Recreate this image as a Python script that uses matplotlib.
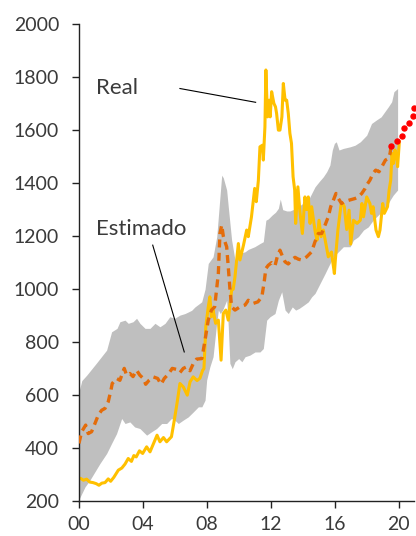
import numpy as np
import matplotlib.pyplot as plt

plt.rcParams['font.family'] = ['Lato', 'DejaVu Sans']

# real price (gold line)
real_x = [0, 0.15, 0.3, 0.5, 0.7, 0.9, 1.1, 1.27, 1.45, 1.65, 1.85, 2.0, 2.2, 2.48, 2.7, 2.9,
          3.1, 3.3, 3.45, 3.6, 3.8, 4.0, 4.25, 4.46, 4.7, 4.9, 5.08, 5.3, 5.5, 5.8, 5.98, 6.15,
          6.33, 6.54, 6.79, 6.96, 7.16, 7.4, 7.58, 7.75, 7.83, 7.95, 8.1, 8.2, 8.3, 8.4, 8.56,
          8.73, 8.9, 9.04, 9.2, 9.35, 9.56, 9.66, 9.77, 9.98, 10.08, 10.3, 10.5, 10.6, 10.8, 11.0,
          11.1, 11.23, 11.33, 11.48, 11.54, 11.64, 11.7, 11.8, 11.9, 11.97, 12.06, 12.2, 12.3,
          12.37, 12.48, 12.58, 12.7, 12.79, 12.9, 13.0, 13.1, 13.2, 13.3, 13.4, 13.5, 13.56, 13.7,
          13.83, 13.98, 14.14, 14.25, 14.35, 14.46, 14.56, 14.7, 14.8, 14.9, 15.02, 15.15, 15.29,
          15.45, 15.6, 15.8, 15.98, 16.04, 16.2, 16.4, 16.5, 16.6, 16.75, 16.9, 17.0, 17.17, 17.4,
          17.6, 17.7, 17.8, 18.0, 18.2, 18.3, 18.4, 18.58, 18.73, 18.83, 19.0, 19.1, 19.3, 19.4,
          19.5, 19.58, 19.66, 19.77, 19.87, 19.93, 20.04]
real_y = [288, 285, 279, 283, 272, 270, 266, 260, 268, 270, 284, 275, 290, 317, 325, 340,
          361, 350, 372, 367, 390, 380, 405, 386, 420, 449, 424, 440, 424, 443, 506, 570,
          644, 631, 600, 650, 669, 655, 664, 694, 700, 860, 933, 971, 896, 921, 871,
          883, 732, 908, 921, 883, 996, 1000, 1047, 1172, 1110, 1166, 1223, 1198, 1273, 1380,
          1330, 1410, 1537, 1543, 1487, 1612, 1827, 1650, 1713, 1650, 1745, 1701, 1688,
          1663, 1600, 1600, 1650, 1776, 1713, 1713, 1663, 1588, 1550, 1424, 1374, 1248, 1386,
          1290, 1210, 1348, 1300, 1348, 1248, 1311, 1250, 1210, 1185, 1260, 1198, 1223,
          1170, 1122, 1140, 1059, 1110, 1223, 1320, 1323, 1311, 1225, 1298, 1170, 1260, 1248,
          1260, 1323, 1273, 1348, 1323, 1286, 1311, 1223, 1198, 1223, 1323, 1286, 1311, 1374,
          1411, 1512, 1474, 1525, 1500, 1462, 1556]

# model estimate (dashed)
est_x = [0.02, 0.19, 0.44, 0.6, 0.81, 1.02, 1.23, 1.44, 1.65, 1.85, 2.02, 2.1, 2.37, 2.58, 2.85,
         3.0, 3.2, 3.4, 3.62, 3.83, 4.04, 4.19, 4.4, 4.66, 4.94, 5.15, 5.35, 5.6, 5.85, 6.13, 6.33,
         6.54, 6.75, 6.96, 7.17, 7.37, 7.7, 7.9, 8.1, 8.3, 8.5, 8.73, 8.83, 8.94, 9.04, 9.14,
         9.25, 9.35, 9.46, 9.56, 9.77, 10.08, 10.4, 10.6, 10.9, 11.2, 11.45, 11.6, 11.7, 11.85,
         12.06, 12.27, 12.41, 12.58, 12.75, 12.9, 13.1, 13.3, 13.52, 13.73,
         13.93, 14.25, 14.56, 14.77, 14.98, 15.19, 15.4, 15.6, 15.75, 15.92, 16.08, 16.23, 16.43,
         16.6, 16.92, 17.27, 17.48, 17.69, 17.9, 18.0, 18.2, 18.4, 18.56, 18.77, 19.0, 19.17,
         19.35, 19.46, 19.52]
est_y = [418, 462, 487, 455, 462, 493, 525, 543, 550, 575, 619, 644, 663, 656, 701,
         675, 682, 670, 694, 675, 663, 641, 656, 669, 663, 641, 663, 679, 701, 697, 685,
         701, 707, 692, 720, 736, 738, 808, 883, 921, 933, 1059, 1210, 1242, 1200, 1179,
         1160, 1084, 996, 933, 921, 933, 940, 958, 946, 952, 971, 1030, 1078, 1090,
         1100, 1088, 1122, 1147, 1122, 1103, 1095, 1110, 1120, 1113,
         1110, 1122, 1141, 1179, 1210, 1210, 1242, 1273, 1311, 1336, 1361, 1342, 1323,
         1330, 1336, 1342, 1348, 1361, 1380, 1393, 1411, 1437, 1449, 1443, 1468, 1487,
         1493, 1512, 1537]

# confidence band
up_x = [0, 0.2, 0.5, 1.1, 1.75, 2.06, 2.4, 2.58, 2.9, 3.1, 3.4, 3.62, 3.83, 4.15, 4.46, 4.77,
        5.08, 5.4, 5.7, 6.0, 6.33, 6.65, 7.06, 7.27, 7.69, 7.9, 8.1, 8.4, 8.63, 8.83, 8.94,
        9.04, 9.25, 9.35, 9.56, 9.77, 10.08, 10.4, 10.6, 11.0, 11.33, 11.54,
        11.6, 11.7, 11.85, 12.1, 12.3, 12.48, 12.6, 12.75, 13.0, 13.2, 13.4, 13.7, 14.0,
        14.35, 14.56, 14.77, 15.02, 15.29, 15.5, 15.7, 15.85, 15.98, 16.1, 16.27, 16.54, 16.96,
        17.27, 17.6, 18.0, 18.3, 18.6, 18.9, 19.35, 19.56, 19.7, 19.93]
up_y = [608, 655, 675, 720, 770, 839, 852, 877, 883, 871, 877, 890, 871, 852, 852, 871,
        858, 871, 896, 890, 902, 908, 920, 933, 952, 1000, 1097, 1122, 1198, 1348, 1430,
        1420, 1374, 1311, 1185, 1110, 1135, 1141, 1150, 1160, 1172, 1179,
        1210, 1260, 1265, 1280, 1290, 1305, 1340, 1300, 1295, 1295, 1300, 1310, 1323,
        1336, 1361, 1386, 1405, 1424, 1443, 1468, 1525, 1550, 1556, 1525, 1531, 1537,
        1543, 1556, 1581, 1625, 1638, 1650, 1688, 1707, 1745, 1757]
lo_x = [0, 0.4, 0.7, 1.02, 1.33, 1.75, 2.06, 2.37, 2.69, 2.9, 3.2, 3.5, 3.83, 4.25, 4.56, 4.87,
        5.19, 5.5, 5.8, 6.0, 6.23, 6.54, 6.85, 7.17, 7.48, 7.7, 7.9, 8.0, 8.2, 8.4, 8.6, 8.73,
        8.85, 9.0, 9.25, 9.35, 9.45, 9.6, 9.77, 10.0, 10.2, 10.4, 10.7, 11.02, 11.33, 11.54, 11.75,
        11.96, 12.27, 12.48, 12.69, 12.9, 13.1, 13.35, 13.56, 13.77, 14.08, 14.35, 14.56, 14.77,
        14.98, 15.19, 15.4, 15.6, 15.92, 16.33, 16.54, 16.96, 17.17, 17.48, 17.8, 18.1, 18.4,
        18.73, 19.04, 19.25, 19.46, 19.66, 19.93]
lo_y = [204, 254, 279, 311, 342, 380, 418, 455, 512, 493, 499, 480, 474, 449, 462, 474,
        493, 493, 512, 506, 493, 506, 518, 537, 556, 556, 581, 657, 707, 745, 858, 921,
        908, 921, 958, 860, 720, 700, 726, 738, 726, 745, 751, 763, 763, 776, 883,
        896, 908, 958, 990, 921, 908, 933, 921, 927, 940, 952, 971, 984,
        1009, 1034, 1059, 1084, 1122, 1147, 1160, 1160, 1185, 1198, 1223, 1235, 1260,
        1280, 1298, 1311, 1336, 1355, 1374]

# projection (red dots)
proj_x = [19.52, 19.88, 20.18, 20.33, 20.66, 20.87, 20.93]
proj_y = [1541, 1560, 1579, 1607, 1627, 1653, 1683]

xticks = [0, 4, 8, 12, 16, 20]
xlabels = ['00', '04', '08', '12', '16', '20']
yticks = [200, 400, 600, 800, 1000, 1200, 1400, 1600, 1800, 2000]

fig = plt.figure(figsize=(4.16, 5.36), dpi=100)
ax = fig.add_axes([0.189, 0.065, 0.806, 0.89])

# band: put both edges on a common grid
grid = np.union1d(up_x, lo_x)
ax.fill_between(grid, np.interp(grid, lo_x, lo_y), np.interp(grid, up_x, up_y),
                color='#bfbfbf', linewidth=0, zorder=1)
ax.plot(est_x, est_y, color='#e46c0a', lw=2.4, dashes=(2.4, 1.6), zorder=3)
ax.plot(real_x, real_y, color='#ffc000', lw=2.2, zorder=2)
ax.plot(proj_x, proj_y, 'o', color='#ff0000', ms=3.6, zorder=4, clip_on=False)

tcol = '#3a3a3a'
ax.text(1.1, 1759, 'Real', fontsize=16, color=tcol, va='center', ha='left')
ax.plot([6.33, 11.06], [1757, 1705], color='black', lw=0.8)
ax.text(1.1, 1227, 'Estimado', fontsize=16, color=tcol, va='center', ha='left')
ax.plot([4.63, 6.6], [1166, 763], color='black', lw=0.8)

ax.set_xlim(0, 20.95)
ax.set_ylim(200, 2000)
ax.set_xticks(xticks)
ax.set_xticklabels(xlabels)
ax.set_yticks(yticks)
for s in ['top', 'right']:
    ax.spines[s].set_visible(False)
for s in ['left', 'bottom']:
    ax.spines[s].set_color('#222222')
    ax.spines[s].set_linewidth(1.0)
ax.tick_params(axis='both', length=5, width=1.0, color='#222222', labelcolor=tcol,
               labelsize=14)
ax.tick_params(axis='y', pad=9)
ax.tick_params(axis='x', pad=6)

fig.savefig('out.png', dpi=100)
